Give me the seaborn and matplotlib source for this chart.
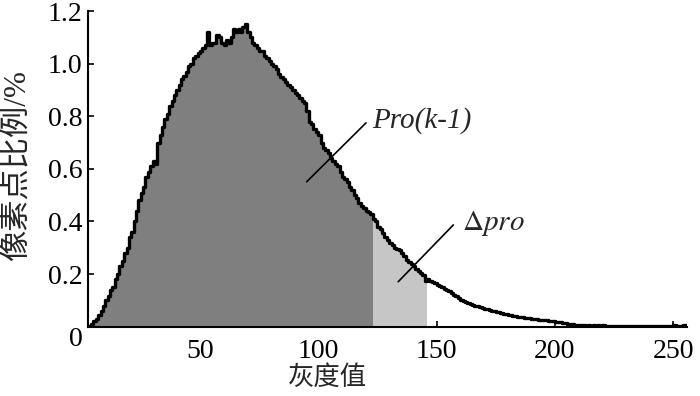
import numpy as np
import pandas as pd
import matplotlib
matplotlib.use("Agg")
import matplotlib.pyplot as plt
import seaborn as sns

# gray level histogram (percentage of pixels per gray level 0..255)
ratio = [
    0, 0, 0, 0.002, 0.01, 0.02, 0.03, 0.045, 0.06, 0.08, 0.10, 0.115, 0.14, 0.15, 0.18, 0.20,
    0.23, 0.25, 0.28, 0.30, 0.34, 0.36, 0.40, 0.44, 0.48, 0.51, 0.53, 0.57, 0.59, 0.61, 0.63, 0.62,
    0.70, 0.73, 0.76, 0.79, 0.81, 0.84, 0.86, 0.88, 0.90, 0.92, 0.94, 0.955, 0.97, 0.99, 1.00, 1.02,
    1.03, 1.04, 1.05, 1.06, 1.07, 1.12, 1.07, 1.08, 1.08, 1.11, 1.10, 1.08, 1.07, 1.09, 1.08, 1.10,
    1.13, 1.12, 1.13, 1.12, 1.14, 1.15, 1.12, 1.10, 1.08, 1.07, 1.06, 1.05, 1.05, 1.03, 1.02, 1.01,
    1.00, 0.99, 0.98, 0.96, 0.95, 0.94, 0.93, 0.92, 0.91, 0.90, 0.89, 0.88, 0.87, 0.86, 0.85, 0.82,
    0.78, 0.77, 0.75, 0.74, 0.73, 0.70, 0.68, 0.67, 0.66, 0.64, 0.63, 0.62, 0.61, 0.59, 0.57, 0.56,
    0.55, 0.53, 0.52, 0.50, 0.49, 0.47, 0.46, 0.45, 0.44, 0.435, 0.43, 0.41, 0.40, 0.38, 0.37, 0.355,
    0.34, 0.33, 0.32, 0.31, 0.30, 0.295, 0.29, 0.28, 0.27, 0.255, 0.245, 0.24, 0.23, 0.22, 0.21, 0.205,
    0.195, 0.175, 0.18, 0.175, 0.17, 0.165, 0.16, 0.155, 0.15, 0.145, 0.14, 0.135, 0.13, 0.12, 0.115, 0.11,
    0.10, 0.098, 0.095, 0.09, 0.088, 0.083, 0.08, 0.078, 0.075, 0.07, 0.068, 0.066, 0.064, 0.06, 0.058, 0.056,
    0.054, 0.052, 0.05, 0.047, 0.045, 0.044, 0.042, 0.04, 0.038, 0.037, 0.035, 0.034, 0.033, 0.032, 0.031, 0.03,
    0.028, 0.027, 0.026, 0.025, 0.024, 0.022, 0.021, 0.02, 0.019, 0.018, 0.016, 0.015, 0.013, 0.012, 0.011, 0.009,
    0.008, 0.007, 0.006, 0.005, 0.005, 0.004, 0.005, 0.004, 0.006, 0.004, 0.005, 0.003, 0.005, 0.004, 0.004, 0.003,
    0.004, 0.003, 0.004, 0.003, 0.003, 0.004, 0.002, 0.003, 0.003, 0.002, 0.003, 0.002, 0.003, 0.002, 0.002, 0.003,
    0.002, 0.002, 0.003, 0.002, 0.002, 0.002, 0.003, 0.002, 0.002, 0.002, 0.008, 0.002, 0.003, 0.004, 0.006, 0.008,
]
levels = list(range(256))
k_prev = 123   # end of Pro(k-1)
k_cur = 146    # end of delta pro

x_ticks = [50, 100, 150, 200, 250]
y_ticks = [0, 0.2, 0.4, 0.6, 0.8, 1.0, 1.2]
y_tick_labels = ["0", "0.2", "0.4", "0.6", "0.8", "1.0", "1.2"]

df = pd.DataFrame({"level": levels, "ratio": ratio})
edges = list(range(257))

sns.set_style("ticks")
serif = ["Liberation Serif", "Noto Sans CJK SC"]
plt.rcParams["font.family"] = serif
plt.rcParams["mathtext.fontset"] = "stix"

fig = plt.figure(figsize=(7, 3.96), dpi=100)
ax = fig.add_axes([0.126, 0.175, 0.855, 0.797])

dark = df[df["level"] < k_prev]
light = df[(df["level"] >= k_prev) & (df["level"] < k_cur)]

sns.histplot(data=dark, x="level", weights="ratio", bins=edges[:k_prev + 1],
             element="step", fill=True, color="#7f7f7f", alpha=1, linewidth=0, ax=ax)
sns.histplot(data=light, x="level", weights="ratio", bins=edges[k_prev:k_cur + 1],
             element="step", fill=True, color="#c6c6c6", alpha=1, linewidth=0, ax=ax)
sns.histplot(data=df, x="level", weights="ratio", bins=edges,
             element="step", fill=False, color="black", linewidth=2.4, ax=ax)

ax.set_xlim(2.8, 255.7)
ax.set_ylim(0, 1.2)
ax.set_xticks(x_ticks)
ax.set_xticklabels([str(t) for t in x_ticks])
ax.set_yticks(y_ticks)
ax.set_yticklabels(y_tick_labels)
ax.yaxis.get_ticklabels()[0].set_va("top")
ax.tick_params(direction="in", length=4, width=1.2, labelsize=20, colors="black")
ax.tick_params(axis="x", pad=9)
ax.tick_params(axis="y", pad=4)
sns.despine(ax=ax)
for s in ["left", "bottom"]:
    ax.spines[s].set_linewidth(1.5)
    ax.spines[s].set_color("black")

ax.set_xlabel("灰度值", fontsize=19)
ax.xaxis.set_label_coords(0.399, -0.122)
ax.set_ylabel("像素点比例/%", fontsize=22.5)
ax.yaxis.set_label_coords(-0.094, 0.512)

# annotation leaders
ax.plot([95.1, 120.2], [0.551, 0.775], color="black", linewidth=1.2)
ax.text(122.7, 0.785, "Pro(k-1)", fontsize=21, style="italic", va="center", ha="left")
ax.plot([133.8, 157.1], [0.171, 0.387], color="black", linewidth=1.2)
ax.text(160.6, 0.394, r"$\Delta\mathit{pro}$", fontsize=21, va="center", ha="left")

fig.savefig("out.png", dpi=100)
